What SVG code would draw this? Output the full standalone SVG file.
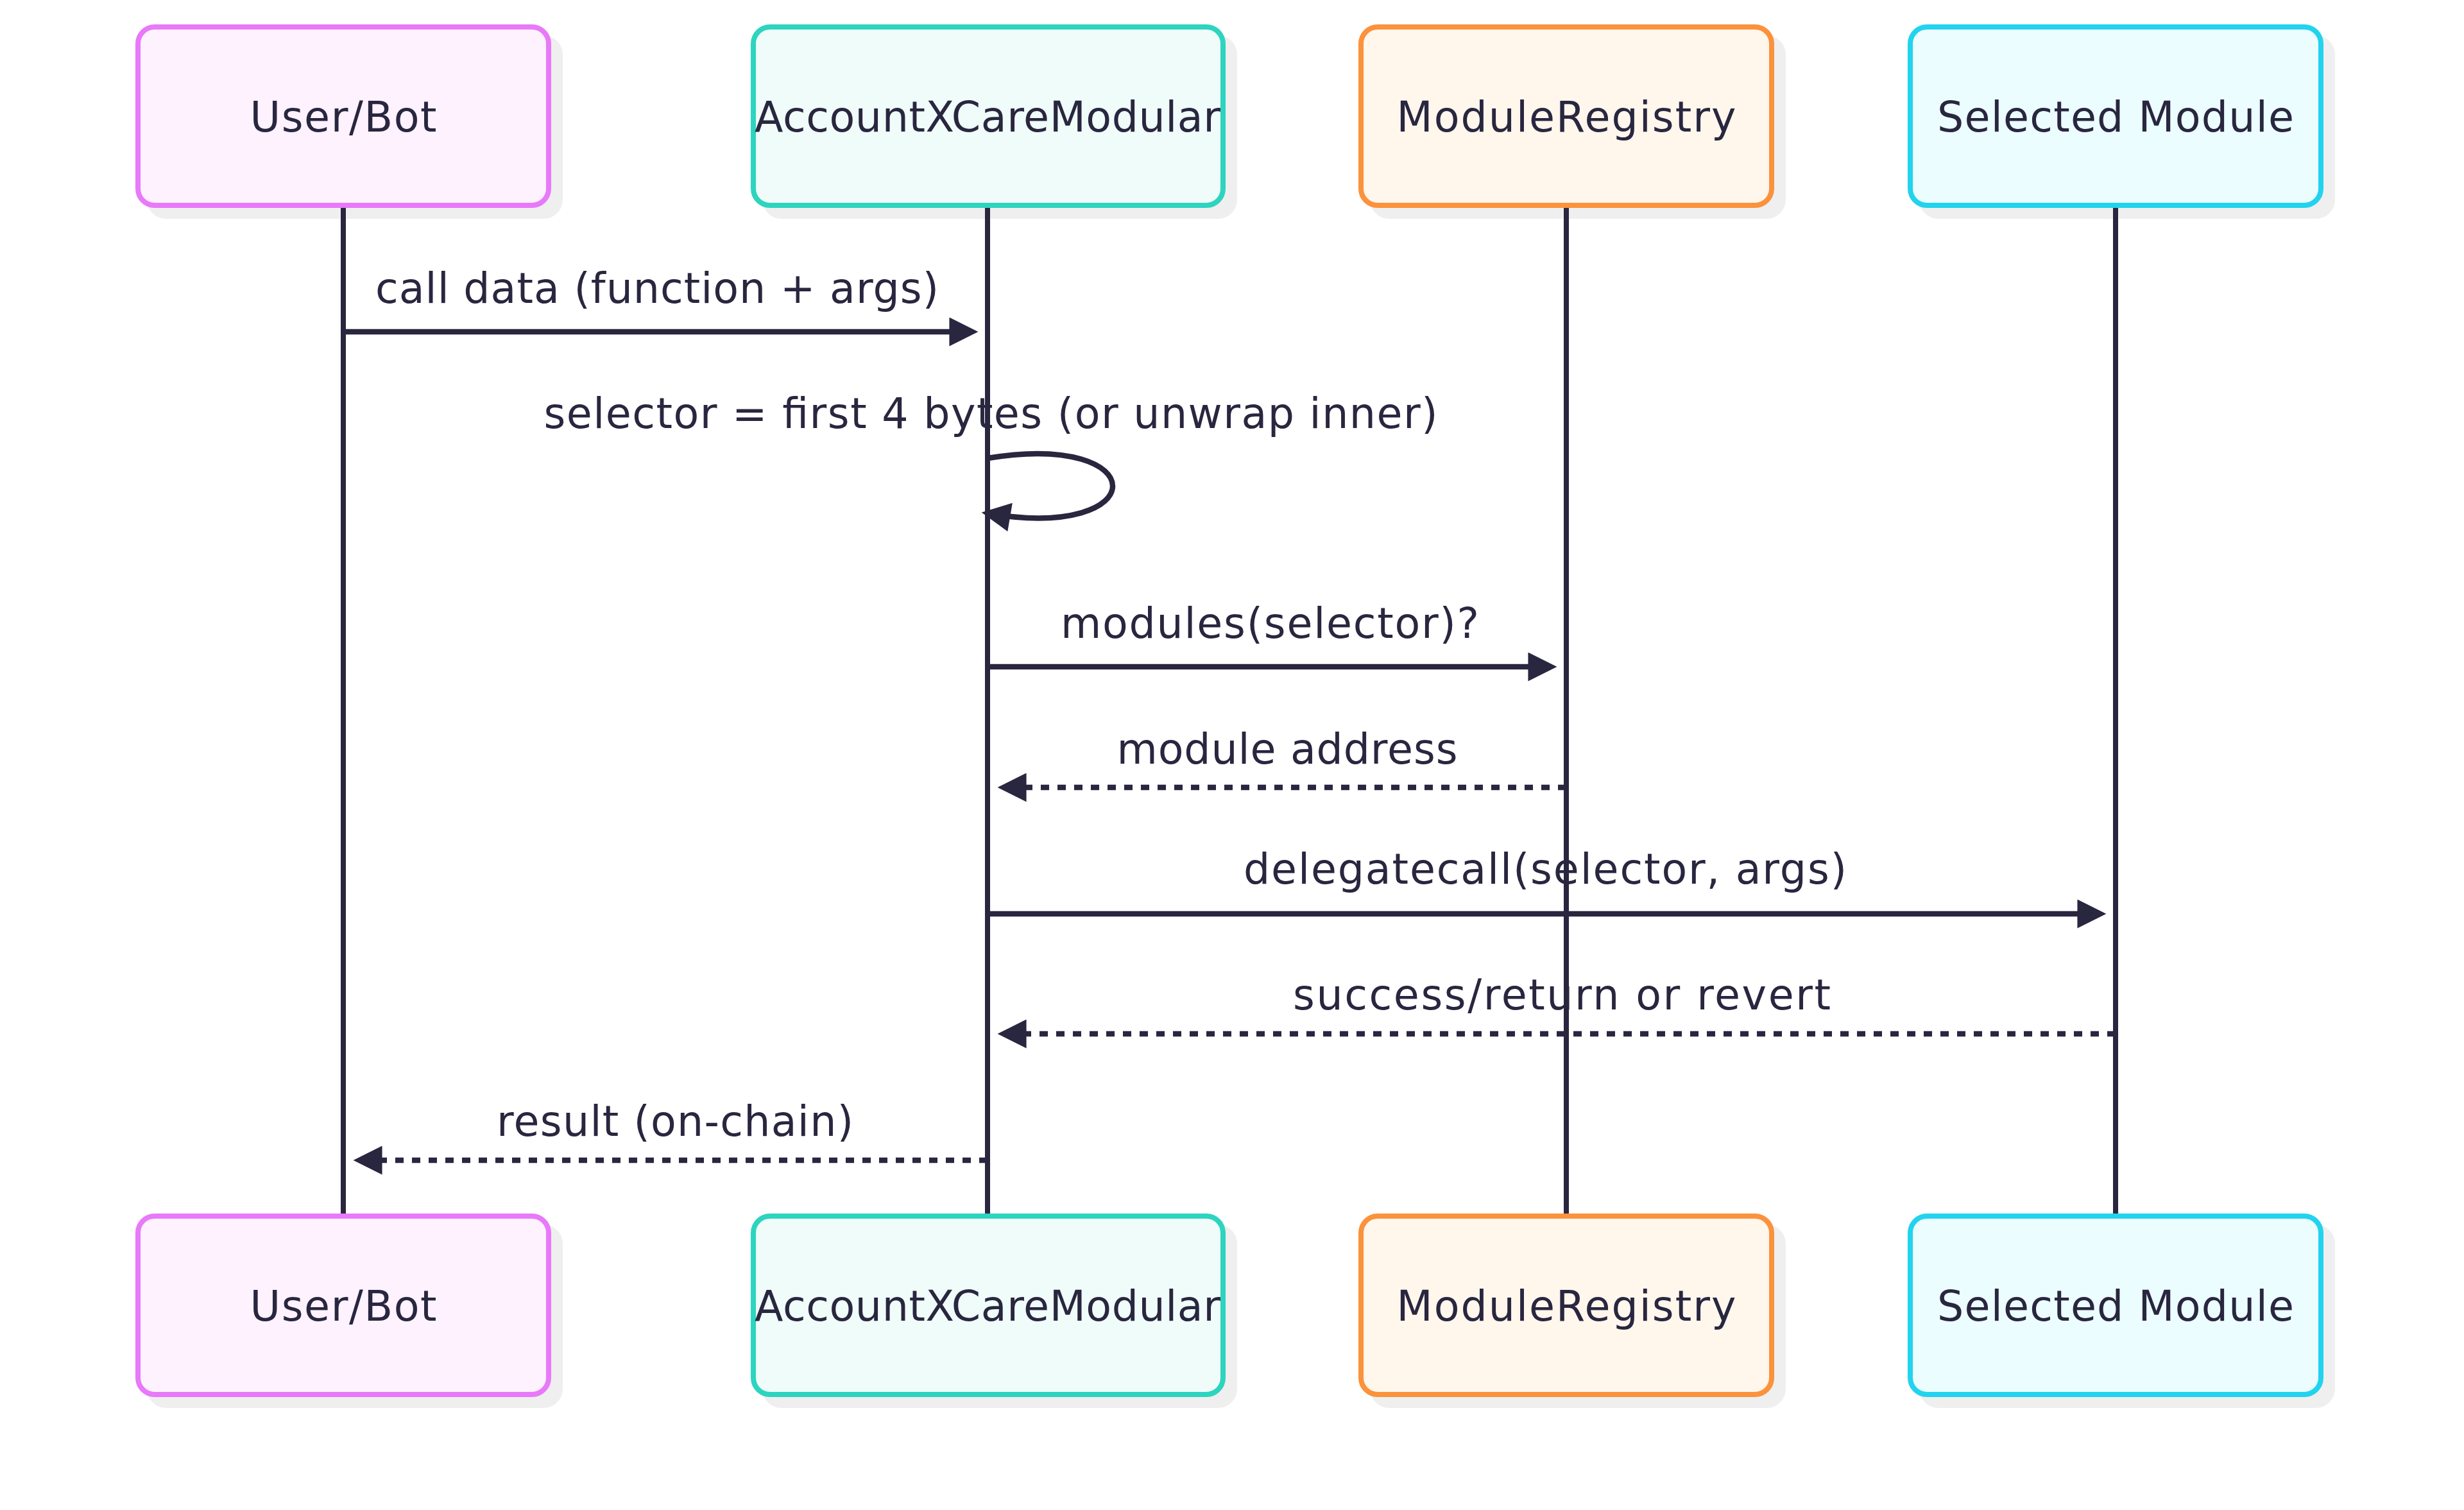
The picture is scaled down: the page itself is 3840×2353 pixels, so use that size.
<svg xmlns="http://www.w3.org/2000/svg" width="3840" height="2353" viewBox="0 0 3840 2353">
<defs>
<style>
.bg{fill:#ffffff}
.shadow{fill:#efefef;stroke:#efefef;stroke-width:8}
.box{stroke-width:8}
.user{fill:#fdf2fe;stroke:#e879f9}
.acct{fill:#effcf9;stroke:#2dd4bf}
.reg{fill:#fff6ec;stroke:#fb923c}
.sel{fill:#ebfdfe;stroke:#22d3ee}
.life{stroke:#29263f;stroke-width:8;fill:none}
.msg{stroke:#29263f;stroke-width:8.5;fill:none;marker-end:url(#arrow)}
.dash{stroke-dasharray:13 13}
.lbl{font-family:"DejaVu Sans","Liberation Sans",sans-serif;font-size:65px;fill:#29263f;text-anchor:middle}
</style>
<marker id="arrow" viewBox="0 0 10 10" refX="7.9" refY="5" markerUnits="userSpaceOnUse" markerWidth="46" markerHeight="45" orient="auto">
<path d="M0,0 L10,5 L0,10 z" fill="#29263f"/>
</marker>
</defs>
<rect class="bg" x="0" y="0" width="3840" height="2353"/>

<g id="actor-user-top">
<rect class="shadow" x="233" y="59" width="640" height="278" rx="26"/>
<rect class="box user" x="215" y="42" width="640" height="278" rx="26"/>
<text class="lbl" x="535" y="205" textLength="291" lengthAdjust="spacing">User/Bot</text>
</g>
<g id="actor-account-top">
<rect class="shadow" x="1192" y="59" width="732" height="278" rx="26"/>
<rect class="box acct" x="1174" y="42" width="732" height="278" rx="26"/>
<text class="lbl" x="1539" y="205" textLength="726" lengthAdjust="spacing">AccountXCareModular</text>
</g>
<g id="actor-registry-top">
<rect class="shadow" x="2139" y="59" width="640" height="278" rx="26"/>
<rect class="box reg" x="2121" y="42" width="640" height="278" rx="26"/>
<text class="lbl" x="2441" y="205" textLength="529" lengthAdjust="spacing">ModuleRegistry</text>
</g>
<g id="actor-module-top">
<rect class="shadow" x="2995" y="59" width="640" height="278" rx="26"/>
<rect class="box sel" x="2977" y="42" width="640" height="278" rx="26"/>
<text class="lbl" x="3297" y="205" textLength="556" lengthAdjust="spacing">Selected Module</text>
</g>

<g id="actor-user-bottom">
<rect class="shadow" x="233" y="1912" width="640" height="278" rx="26"/>
<rect class="box user" x="215" y="1895" width="640" height="278" rx="26"/>
<text class="lbl" x="535" y="2058" textLength="291" lengthAdjust="spacing">User/Bot</text>
</g>
<g id="actor-account-bottom">
<rect class="shadow" x="1192" y="1912" width="732" height="278" rx="26"/>
<rect class="box acct" x="1174" y="1895" width="732" height="278" rx="26"/>
<text class="lbl" x="1539" y="2058" textLength="726" lengthAdjust="spacing">AccountXCareModular</text>
</g>
<g id="actor-registry-bottom">
<rect class="shadow" x="2139" y="1912" width="640" height="278" rx="26"/>
<rect class="box reg" x="2121" y="1895" width="640" height="278" rx="26"/>
<text class="lbl" x="2441" y="2058" textLength="529" lengthAdjust="spacing">ModuleRegistry</text>
</g>
<g id="actor-module-bottom">
<rect class="shadow" x="2995" y="1912" width="640" height="278" rx="26"/>
<rect class="box sel" x="2977" y="1895" width="640" height="278" rx="26"/>
<text class="lbl" x="3297" y="2058" textLength="556" lengthAdjust="spacing">Selected Module</text>
</g>

<g id="lifelines">
<line class="life" x1="535" y1="324" x2="535" y2="1891"/>
<line class="life" x1="1539" y1="324" x2="1539" y2="1891"/>
<line class="life" x1="2441" y1="324" x2="2441" y2="1891"/>
<line class="life" x1="3297" y1="324" x2="3297" y2="1891"/>
</g>

<g id="connectors">
<line class="msg" x1="539" y1="517" x2="1515" y2="517"/>
<path class="msg" d="M1539,714 C1799,671 1799,844 1539,800"/>
<line class="msg" x1="1539" y1="1039" x2="2417" y2="1039"/>
<line class="msg dash" x1="2441" y1="1227" x2="1564" y2="1227"/>
<line class="msg" x1="1539" y1="1424" x2="3273" y2="1424"/>
<line class="msg dash" x1="3297" y1="1611" x2="1564" y2="1611"/>
<line class="msg dash" x1="1539" y1="1808" x2="560" y2="1808"/>
</g>

<g id="message-labels">
<text class="lbl" x="1024" y="472" textLength="878" lengthAdjust="spacing">call data (function + args)</text>
<text class="lbl" x="1544" y="667" textLength="1393" lengthAdjust="spacing">selector = first 4 bytes (or unwrap inner)</text>
<text class="lbl" x="1979" y="994" textLength="652" lengthAdjust="spacing">modules(selector)?</text>
<text class="lbl" x="2006" y="1190" textLength="531" lengthAdjust="spacing">module address</text>
<text class="lbl" x="2408" y="1377" textLength="940" lengthAdjust="spacing">delegatecall(selector, args)</text>
<text class="lbl" x="2434" y="1573" textLength="838" lengthAdjust="spacing">success/return or revert</text>
<text class="lbl" x="1052" y="1770" textLength="556" lengthAdjust="spacing">result (on-chain)</text>
</g>
</svg>
